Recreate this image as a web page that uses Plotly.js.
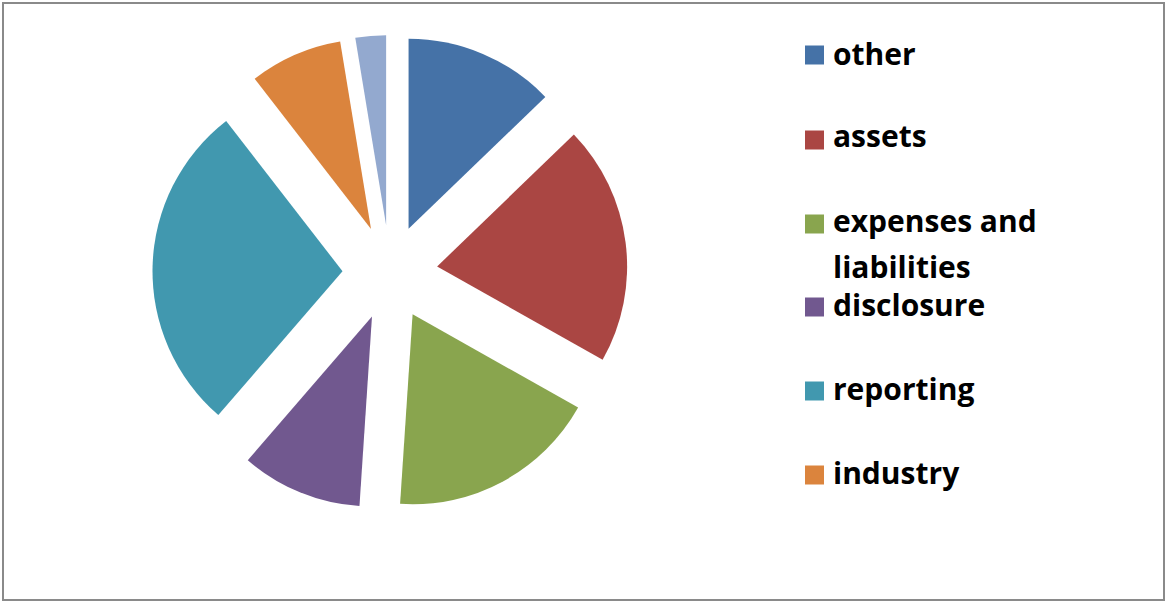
<!DOCTYPE html>
<html>
<head>
<meta charset="utf-8">
<script src="https://cdn.plot.ly/plotly-3.0.1.min.js"></script>
<style>
html,body{margin:0;padding:0;background:#fff;}
#chart{width:1167px;height:603px;}
</style>
</head>
<body>
<div id="chart"></div>
<script>
// Data
var labels = ["other", "assets", "expenses and liabilities", "disclosure", "reporting", "industry", "unlabeled"];
var values = [12.8, 20.4, 17.9, 10.3, 28.2, 7.9, 2.6];
var colors = ["#4572A7", "#AA4643", "#89A54E", "#71588F", "#4198AF", "#DB843D", "#93A9CF"];
var legendLines = [["other"], ["assets"], ["expenses and", "liabilities"], ["disclosure"], ["reporting"], ["industry"]];

var W = 1167, H = 603;
var trace = {
  type: "pie",
  labels: labels,
  values: values,
  sort: false,
  direction: "clockwise",
  rotation: 0,
  pull: values.map(function(){return 0.25;}),
  marker: {colors: colors, line: {width: 0}},
  textinfo: "none",
  hoverinfo: "label+percent",
  domain: {x: [152/W, 628/W], y: [1-510/H, 1-35/H]},
  showlegend: false
};

// manual legend
var shapes = [{
  type: "rect", xref: "paper", yref: "paper",
  x0: 3/W, x1: 1164/W, y0: 1-600/H, y1: 1-3/H,
  line: {color: "#8a8a8a", width: 2}, fillcolor: "rgba(0,0,0,0)"
}];
var annotations = [];
var sqY = [55, 140, 224, 307, 391, 475];
var textY = [53, 136, 220, 304, 388, 472];
var lineGap = 46;
for (var i = 0; i < legendLines.length; i++) {
  shapes.push({
    type: "rect", xref: "paper", yref: "paper",
    x0: 805/W, x1: 824/W, y0: 1-(sqY[i]+9.5)/H, y1: 1-(sqY[i]-9.5)/H,
    fillcolor: colors[i], line: {width: 0}
  });
  for (var j = 0; j < legendLines[i].length; j++) {
    annotations.push({
      xref: "paper", yref: "paper", x: 831/W, y: 1-(textY[i] + j*lineGap)/H,
      xanchor: "left", yanchor: "middle", align: "left",
      text: "<b>" + legendLines[i][j] + "</b>", showarrow: false,
      font: {family: "'Open Sans', sans-serif", size: 30, color: "#000"}
    });
  }
}

var layout = {
  width: W, height: H,
  margin: {l: 0, r: 0, t: 0, b: 0},
  paper_bgcolor: "#ffffff",
  plot_bgcolor: "#ffffff",
  showlegend: false,
  shapes: shapes,
  annotations: annotations
};
Plotly.newPlot("chart", [trace], layout, {displayModeBar: false, staticPlot: true});
</script>
</body>
</html>
